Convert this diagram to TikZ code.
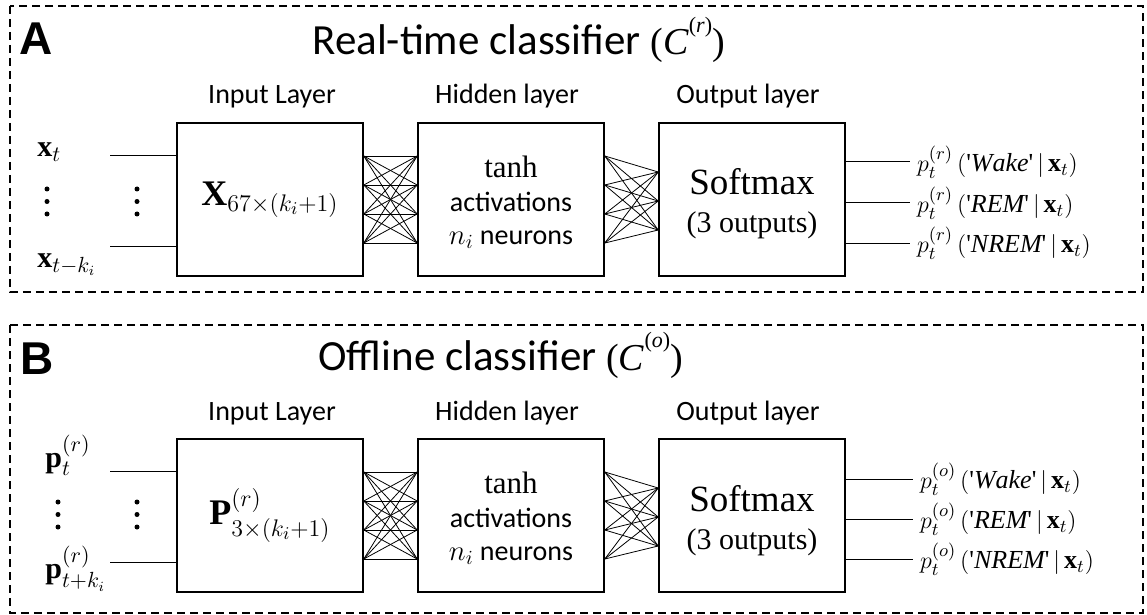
\documentclass[tikz,border=0pt]{standalone}
\usepackage{fontspec}
\usepackage{amsmath}
\setmainfont{Carlito}
\setmathrm{Liberation Serif}
\newfontfamily\serifrm{Liberation Serif}
\newfontfamily\panelfont{Liberation Sans}
\usetikzlibrary{calc}
% output probability label
\newcommand{\qmark}{\text{\serifrm\textquotesingle}}
\newcommand{\probl}[2]{$p_t^{(#1)}\,(\qmark\mathit{#2}\qmark\,|\,\mathbf{x}_t)$}
% classifier name in the titles
\newcommand{\clsname}[1]{{\serifrm\fontsize{19}{24}\selectfont(\textit{C}\raisebox{1.3ex}{\fontsize{11}{11}\selectfont(\textit{#1})})}}

\begin{document}
\begin{tikzpicture}[x=0.5pt,y=-0.5pt,
    layerbox/.style={draw,line width=0.8pt,minimum width=93pt,minimum height=76.5pt,inner sep=0pt},
    frame/.style={line width=1pt,dash pattern=on 4pt off 2.5pt},
    wire/.style={line width=0.4pt},
    lead/.style={line width=0.5pt},
    layername/.style={anchor=base,font=\fontsize{14}{16}\selectfont},
    title/.style={anchor=base west,inner sep=0pt,font=\fontsize{21.5}{24}\selectfont},
    panel/.style={anchor=base west,inner sep=0pt,font=\panelfont\bfseries\fontsize{23}{26}\selectfont},
    serifline/.style={anchor=base,inner sep=0pt,font=\serifrm\fontsize{#1}{#1}\selectfont},
    sansline/.style={anchor=base,inner sep=0pt,font=\fontsize{14}{16}\selectfont},
    outlabel/.style={anchor=west,font=\fontsize{13}{15}\selectfont},
    inlabel/.style={anchor=base west,inner sep=0pt,font=\fontsize{15}{18}\selectfont}]
\useasboundingbox (0,0) rectangle (1147,615);

% ---------------- Panel A ----------------
\draw[frame] (10,6) rectangle (1143,292);
\node[panel] (labA) at (19,55) {A};
\node[title] (titA) at (312,55) {Real-time classifier \clsname{r}};

\node[layername] (inA-name) at (272,104) {Input Layer};
\node[layername] (hidA-name) at (507,104) {Hidden layer};
\node[layername] (outA-name) at (748,104) {Output layer};

\node[layerbox] (inA) at (270,199.5) {};
\node[layerbox] (hidA) at (511,199.5) {};
\node[layerbox] (outA) at (752,199.5) {};
\node[font=\fontsize{18}{20}\selectfont] (inA-txt) at (inA.center) {$\mathbf{X}_{67\times(k_i+1)}$};
\node[serifline=15.5] (hidA-t1) at ($(hidA.center)+(0,-22)$) {tanh};
\node[sansline] (hidA-t2) at ($(hidA.center)+(0,12)$) {activations};
\node[sansline] (hidA-t3) at ($(hidA.center)+(0,45)$) {$n_i$ neurons};
\node[serifline=18.5] (outA-t1) at ($(outA.center)+(0,-4.5)$) {Softmax};
\node[serifline=15] (outA-t2) at ($(outA.center)+(0,33.5)$) {(3 outputs)};

% full connections
\foreach \i in {-43.5,-14.5,14.5,43.5}
  \foreach \j in {-43.5,-14.5,14.5,43.5}
    \draw[wire] ($(inA.east)+(0,\i)$) -- ($(hidA.west)+(0,\j)$);
\foreach \i in {-43.5,-14.5,14.5,43.5}
  \foreach \j in {-27.5,1.5,30.5}
    \draw[wire] ($(hidA.east)+(0,\i)$) -- ($(outA.west)+(0,\j)$);

% inputs
\coordinate (xa1) at (110,156);
\coordinate (xa2) at (110,246);
\draw[lead] (xa1) -- (xa1 -| inA.west);
\draw[lead] (xa2) -- (xa2 -| inA.west);
\node[inlabel] (xtA) at (37,157) {$\mathbf{x}_t$};
\node[inlabel] (xkA) at (37,267) {$\mathbf{x}_{t-k_i}$};
\foreach \yy in {189,201.5,214} {
  \fill (47,\yy) circle (1.25pt);
  \fill (137,\yy) circle (1.25pt);
}

% outputs
\coordinate (oa1) at (910,162);
\coordinate (oa2) at (910,203);
\coordinate (oa3) at (910,243);
\draw[lead] (oa1 -| outA.east) -- (oa1);
\draw[lead] (oa2 -| outA.east) -- (oa2);
\draw[lead] (oa3 -| outA.east) -- (oa3);
\node[outlabel] (pa1) at (oa1) {\probl{r}{Wake}};
\node[outlabel] (pa2) at (oa2) {\probl{r}{REM}};
\node[outlabel] (pa3) at (oa3) {\probl{r}{NREM}};

% ---------------- Panel B ----------------
\draw[frame] (10,325) rectangle (1143,613);
\node[panel] (labB) at (20,374) {B};
\node[title] (titB) at (318,370) {Offline classifier \clsname{o}};

\node[layername] (inB-name) at (272,420) {Input Layer};
\node[layername] (hidB-name) at (507,420) {Hidden layer};
\node[layername] (outB-name) at (748,420) {Output layer};

\node[layerbox] (inB) at (270,515.5) {};
\node[layerbox] (hidB) at (511,515.5) {};
\node[layerbox] (outB) at (752,515.5) {};
\node[font=\fontsize{18}{20}\selectfont] (inB-txt) at (inB.center) {$\mathbf{P}^{(r)}_{3\times(k_i+1)}$};
\node[serifline=15.5] (hidB-t1) at ($(hidB.center)+(0,-22)$) {tanh};
\node[sansline] (hidB-t2) at ($(hidB.center)+(0,12)$) {activations};
\node[sansline] (hidB-t3) at ($(hidB.center)+(0,45)$) {$n_i$ neurons};
\node[serifline=18.5] (outB-t1) at ($(outB.center)+(0,-4.5)$) {Softmax};
\node[serifline=15] (outB-t2) at ($(outB.center)+(0,33.5)$) {(3 outputs)};

% full connections
\foreach \i in {-43.5,-14.5,14.5,43.5}
  \foreach \j in {-43.5,-14.5,14.5,43.5}
    \draw[wire] ($(inB.east)+(0,\i)$) -- ($(hidB.west)+(0,\j)$);
\foreach \i in {-43.5,-14.5,14.5,43.5}
  \foreach \j in {-27.5,1.5,30.5}
    \draw[wire] ($(hidB.east)+(0,\i)$) -- ($(outB.west)+(0,\j)$);

% inputs
\coordinate (xb1) at (110,471);
\coordinate (xb2) at (110,562);
\draw[lead] (xb1) -- (xb1 -| inB.west);
\draw[lead] (xb2) -- (xb2 -| inB.west);
\node[inlabel] (ptB) at (45,467) {$\mathbf{p}^{(r)}_t$};
\node[inlabel] (pkB) at (45,578) {$\mathbf{p}^{(r)}_{t+k_i}$};
\foreach \yy in {502,514.5,527} {
  \fill (58,\yy) circle (1.25pt);
  \fill (137,\yy) circle (1.25pt);
}

% outputs
\coordinate (ob1) at (913,479);
\coordinate (ob2) at (913,519);
\coordinate (ob3) at (913,559);
\draw[lead] (ob1 -| outB.east) -- (ob1);
\draw[lead] (ob2 -| outB.east) -- (ob2);
\draw[lead] (ob3 -| outB.east) -- (ob3);
\node[outlabel] (pb1) at (ob1) {\probl{o}{Wake}};
\node[outlabel] (pb2) at (ob2) {\probl{o}{REM}};
\node[outlabel] (pb3) at (ob3) {\probl{o}{NREM}};
\end{tikzpicture}
\end{document}
